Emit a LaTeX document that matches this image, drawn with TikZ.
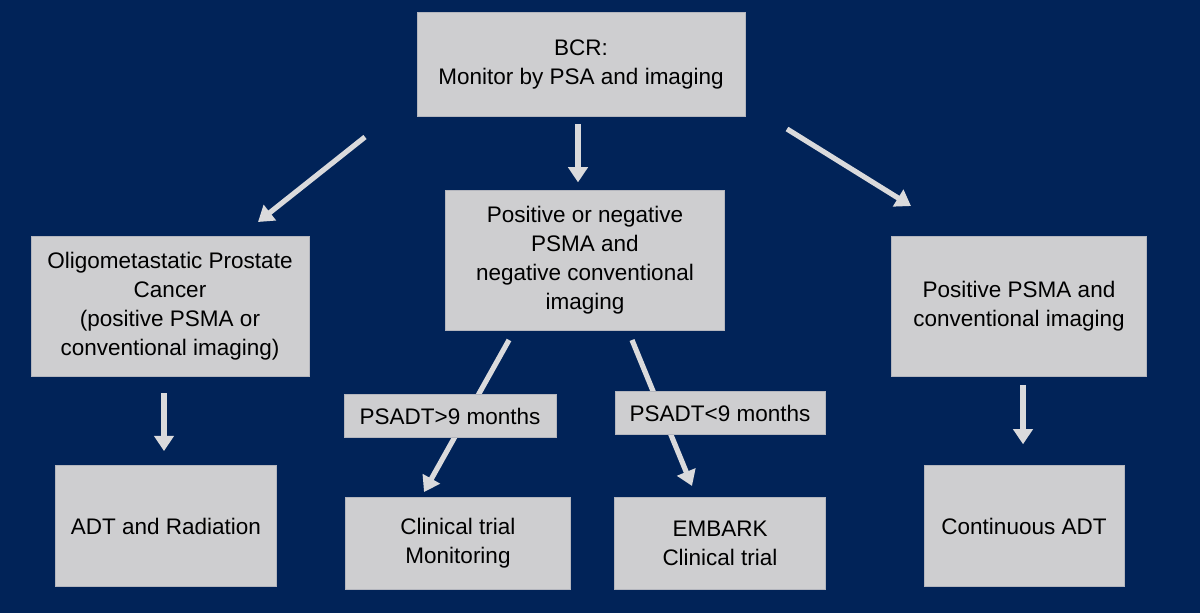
\documentclass[tikz,border=0pt]{standalone}
\usepackage{fontspec}
\setmainfont{Liberation Sans}
\usetikzlibrary{arrows.meta}
\definecolor{navybg}{RGB}{1,35,88}
\definecolor{boxgray}{RGB}{206,206,208}
\definecolor{boxedge}{RGB}{180,182,190}
\definecolor{arrowgray}{RGB}{218,218,220}

\tikzset{
  box/.style={draw=boxedge, line width=0.6pt, fill=boxgray, align=center, inner sep=0pt,
    font=\fontsize{16}{20.6}\selectfont, text=black},
  flow/.style={-{Triangle[width=0.48cm,length=0.38cm]}, line width=0.13cm, draw=arrowgray}
}

\begin{document}
\begin{tikzpicture}[x=0.025cm, y=-0.025cm]

% background
\fill[navybg] (0,0) rectangle (1200,613);
\useasboundingbox (0,0) rectangle (1200,613);

% top box
\node[box, minimum width=8.2cm, minimum height=2.6cm] (bcr) at (581,64) {BCR:\\Monitor by PSA and imaging};

% second row
\node[box, minimum width=6.95cm, minimum height=3.5cm] (oligo) at (170,306)
  {Oligometastatic Prostate\\Cancer\\(positive PSMA or\\conventional imaging)};
\node[box, minimum width=6.975cm, minimum height=3.5cm] (mid) at (585,260)
  {Positive or negative\\PSMA and\\negative conventional\\imaging};
\node[box, minimum width=6.375cm, minimum height=3.5cm] (pos) at (1019,306)
  {Positive PSMA and\\conventional imaging};

% bottom row
\node[box, minimum width=5.525cm, minimum height=3.025cm] (adtrad) at (166,526) {ADT and Radiation};
\node[box, minimum width=5.625cm, minimum height=2.3cm] (trialmon) at (458,543) {Clinical trial\\Monitoring};
\node[box, minimum width=5.275cm, minimum height=2.3cm] (embark) at (720,543) {EMBARK\\Clinical trial};
\node[box, minimum width=5cm, minimum height=3.025cm] (contadt) at (1024,526) {Continuous ADT};

% free arrow ends
\coordinate (leftS) at (365,137);
\coordinate (leftE) at (258,222);
\coordinate (rightS) at (787,129);
\coordinate (rightE) at (911,206);
\coordinate (slowS) at (509,340);
\coordinate (slowE) at (424,492);
\coordinate (fastS) at (632,340);
\coordinate (fastE) at (692,486);

% arrows
\draw[flow] (leftS) -- (leftE);
\draw[flow, shorten <=0.2cm, shorten >=0.18cm] ([xshift=-0.075cm]bcr.south) -- ([xshift=-0.075cm]bcr.south |- mid.north);
\draw[flow] (rightS) -- (rightE);
\draw[flow, shorten <=0.42cm, shorten >=0.35cm] ([xshift=-0.15cm]oligo.south) -- ([xshift=-0.15cm]oligo.south |- adtrad.north);
\draw[flow] (slowS) -- (slowE);
\draw[flow] (fastS) -- (fastE);
\draw[flow, shorten <=0.22cm, shorten >=0.52cm] ([xshift=0.1cm]pos.south) -- ([xshift=0.1cm]pos.south |- contadt.north);

% labels on the arrows
\node[box, minimum width=5.3cm, minimum height=1.075cm] (slowlbl) at (450,416) {PSADT>9 months};
\node[box, minimum width=5.25cm, minimum height=1.075cm] (fastlbl) at (720,413) {PSADT<9 months};

\end{tikzpicture}
\end{document}
